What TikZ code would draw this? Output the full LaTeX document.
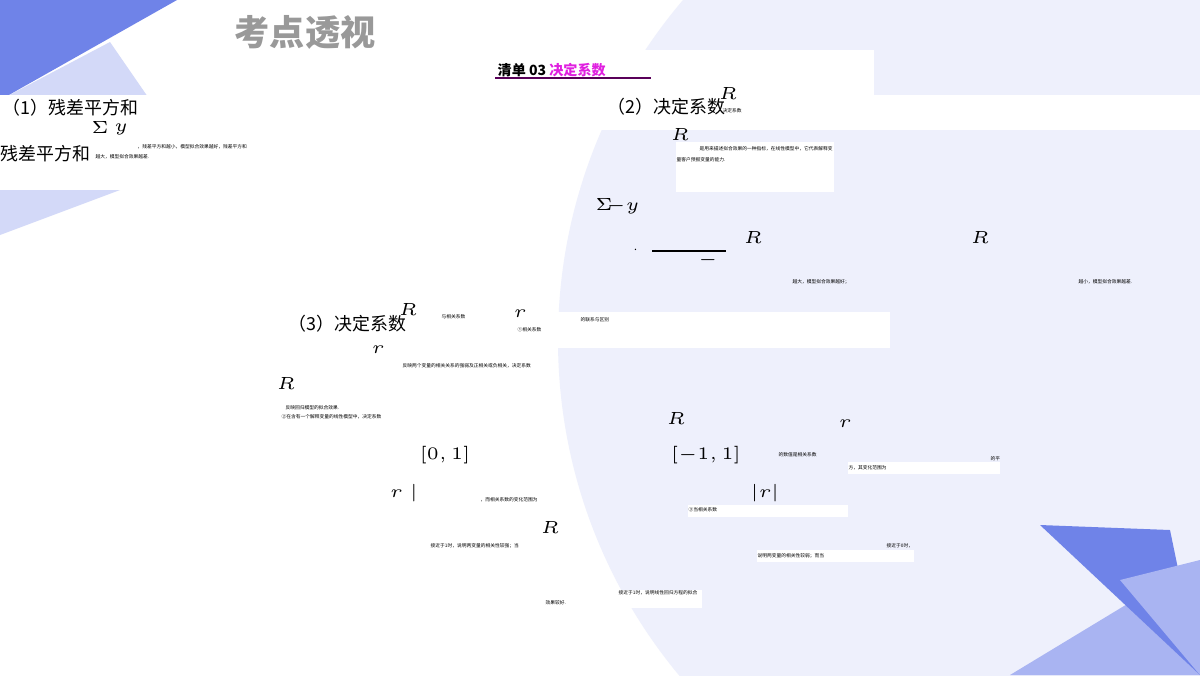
\documentclass[tikz,border=0pt]{standalone}
\usepackage{fontspec}
\newfontfamily\cjk{Noto Sans CJK SC}
\definecolor{bgc}{HTML}{EEF0FC}
\definecolor{bl1}{HTML}{6F83E8}
\definecolor{bl2}{HTML}{A9B4F2}
\definecolor{bl3}{HTML}{D3D9F8}
\definecolor{mag}{HTML}{E020E0}
\tikzset{
 x=0.01cm,y=-0.01cm,
 h/.style={anchor=west,inner sep=0,font=\cjk\fontsize{5.1}{6}\selectfont},
 t/.style={anchor=west,inner sep=0,font=\cjk\fontsize{1.35}{1.5}\selectfont},
 m/.style={anchor=center,inner sep=0,font=\fontsize{3}{3.5}\selectfont},
 wb/.style={fill=white,draw=none}
}
\begin{document}
\begin{tikzpicture}
\useasboundingbox (0,0) rectangle (1200,675);
\fill[white] (0,0) rectangle (1200,675);
% big circle
\fill[bgc] (1083,340) circle (525);
% top-left triangles
\fill[bl3] (0,100) -- (110,42) -- (150,100) -- cycle;
\fill[bl1] (0,0) -- (177,0) -- (0,100) -- cycle;
\fill[bl3] (0,190) -- (120,190) -- (0,235) -- cycle;
% bottom-right triangles
\fill[bl2] (1200,560) -- (1200,675) -- (1010,675) -- cycle;
\fill[bl1] (1040,525) -- (1170,530) -- (1200,675) -- cycle;
\fill[bl2] (1120,580) -- (1200,560) -- (1200,675) -- cycle;
% white masks
\fill[wb] (0,95) rectangle (1200,130);
\fill[wb] (0,130) rectangle (580,190);
\fill[wb] (180,50) rectangle (874,95);
\fill[wb] (676,142) rectangle (834,192);
\fill[wb] (280,312) rectangle (890,348);
\fill[wb] (560,590) rectangle (702,608);
% title
\node[inner sep=0,text=gray!80,font=\cjk\bfseries\fontsize{10}{11}\selectfont] (ttl) at (305,32) {考点透视};
\node[inner sep=0,anchor=west,font=\cjk\bfseries\fontsize{4}{5}\selectfont] (l03) at (497,70) {清单 03 \textcolor{mag}{决定系数}};
\draw[line width=0.6pt,color=violet!70!black] (495,78) -- (651,78);
% (1)
\node[h] (h1) at (2,108) {（1）残差平方和};
\node[m] (s1) at (100,128) {$\Sigma$};
\node[m] (y1) at (121,129) {$y$};
\node[h] (h1b) at (0,154) {残差平方和};
\node[t] (t1a) at (137,147) {，残差平方和越小，模型拟合效果越好，残差平方和};
\node[t] (t1b) at (95,157) {越大，模型拟合效果越差.};
% (2)
\node[h] (h2) at (607,107) {（2）决定系数};
\node[m] (R2) at (728,93) {$R$};
\node[t] (t2) at (722,111) {决定系数};
\node[m] (R2b) at (680,134) {$R$};
\node[t] (t2b) at (699,149) {是用来描述拟合效果的一种指标，在线性模型中，它代表解释变};
\node[t] (t2c) at (676,160) {量客户预报变量的能力.};
\node[m] (s2) at (604,205) {$\Sigma$};
\node[m] (y2) at (623,206) {$-y$};
\node[t,font=\cjk\fontsize{3}{3}\selectfont] (dot) at (633,250) {.};
\draw[line width=0.5pt] (652,251) -- (726,251);
\node[m] (mi) at (708,260) {$-$};
\node[m] (R3) at (753,237) {$R$};
\node[m] (R4) at (980,237) {$R$};
\node[t] (t2d) at (792,282) {越大，模型拟合效果越好；};
\node[t] (t2e) at (1078,282) {越小，模型拟合效果越差.};
% (3)
\node[h] (h3) at (288,324) {（3）决定系数};
\node[m] (R5) at (408,309) {$R$};
\node[t] (t3a) at (441,317) {与相关系数};
\node[m] (r1) at (520,314) {$r$};
\node[t] (t3b) at (517,330) {①相关系数};
\node[t] (t3c) at (580,320) {的联系与区别};
\node[m] (r2) at (378,350) {$r$};
\node[t] (t3d) at (402,366) {反映两个变量的相关关系的强弱及正相关或负相关，决定系数};
\node[m] (R6) at (286,383) {$R$};
\node[t] (t3e) at (285,408) {反映回归模型的拟合效果.};
\node[t] (t3f) at (281,417) {②在含有一个解释变量的线性模型中，决定系数};
\node[m] (R7) at (676,418) {$R$};
\node[m] (r3) at (845,424) {$r$};
\node[m] (b1) at (445,455) {$[0,1]$};
\node[m] (b2) at (706,455) {$[-1,1]$};
\node[t] (t3g) at (778,455) {的数值是相关系数};
\node[t] (t3h) at (990,459) {的平};
\fill[wb] (848,462) rectangle (1000,474);
\node[t] (t3i) at (848,468) {方，其变化范围为};
\node[m] (ab1) at (404,493) {$r\;|$};
\node[t] (t3j) at (480,500) {，而相关系数的变化范围为};
\node[m] (ab2) at (765,493) {$|r|$};
\fill[wb] (688,505) rectangle (848,517);
\node[t] (t3k) at (688,510) {③当相关系数};
\node[m] (R8) at (550,527) {$R$};
\node[t] (t3l) at (430,546) {接近于1时，说明两变量的相关性较强；当};
\node[t] (t3m) at (886,546) {接近于0时，};
\fill[wb] (757,550) rectangle (914,562);
\node[t] (t3n) at (757,556) {说明两变量的相关性较弱；而当};
\node[t] (t3o) at (618,593) {接近于1时，说明线性回归方程的拟合};
\node[t] (t3p) at (545,603) {效果较好.};
\end{tikzpicture}
\end{document}
